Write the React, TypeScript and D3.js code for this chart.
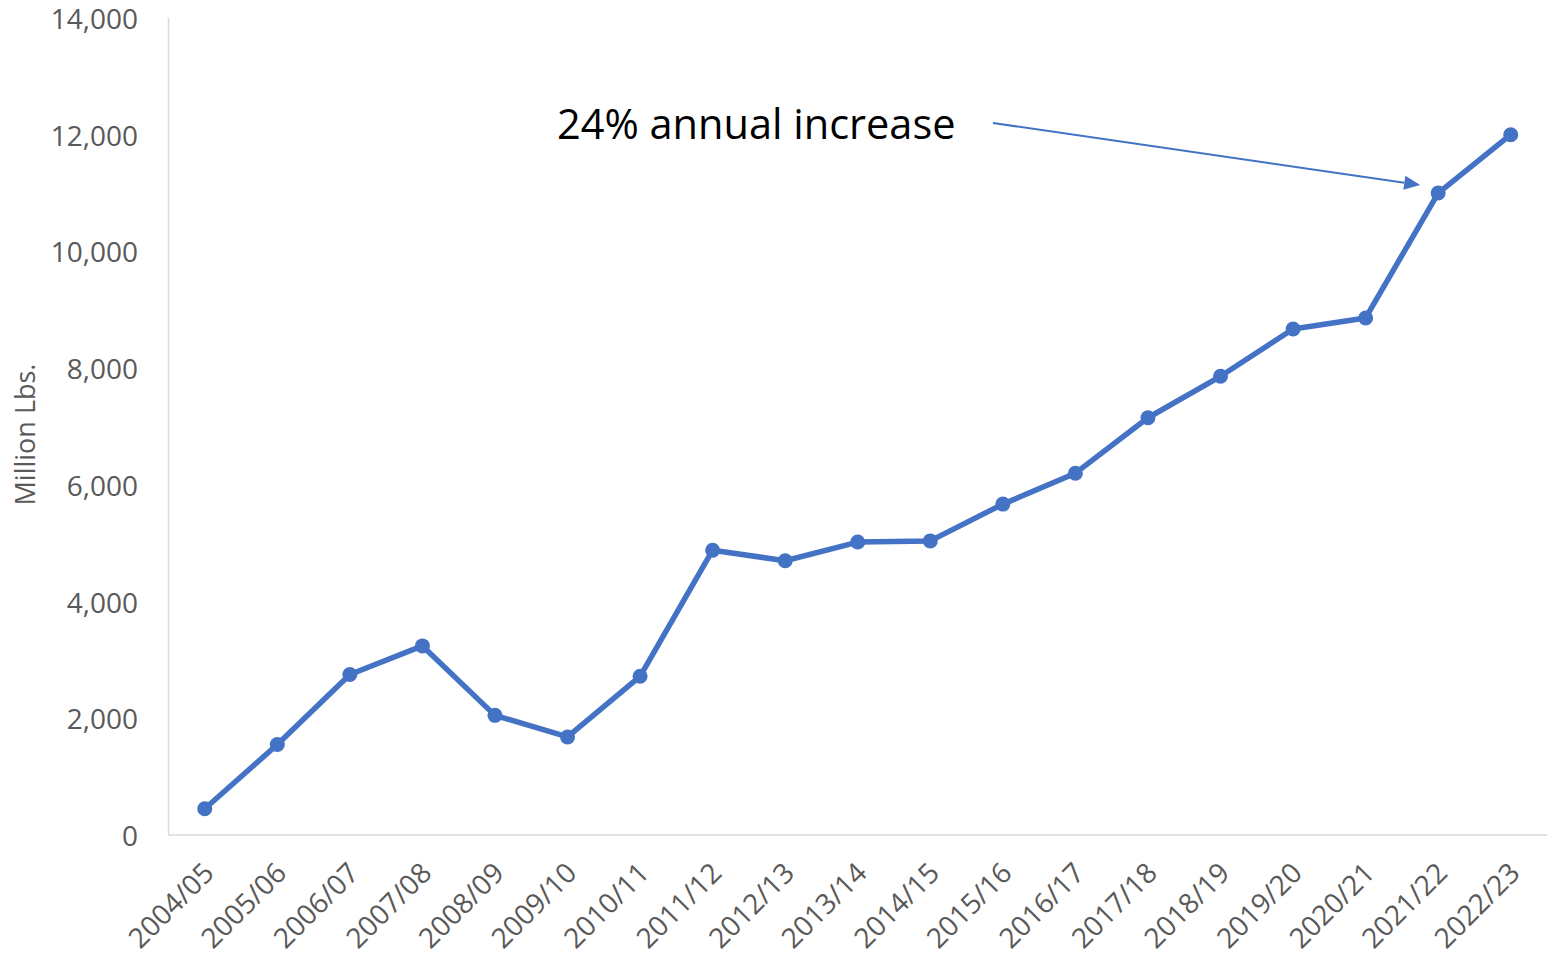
import React from "react";
import * as d3 from "d3";

const categories = [
  "2004/05", "2005/06", "2006/07", "2007/08", "2008/09", "2009/10", "2010/11",
  "2011/12", "2012/13", "2013/14", "2014/15", "2015/16", "2016/17", "2017/18",
  "2018/19", "2019/20", "2020/21", "2021/22", "2022/23",
];
const values = [
  450, 1550, 2750, 3240, 2050, 1680, 2720, 4880, 4700, 5020, 5040, 5670, 6200,
  7150, 7860, 8670, 8860, 11000, 12000,
];
const yTicks = [0, 2000, 4000, 6000, 8000, 10000, 12000, 14000];
const yTitle = "Million Lbs.";
const annotationText = "24% annual increase";
const annotationTarget = "2021/22";

const W = 1547;
const H = 962;
const left = 168.5;
const right = 1547;
const top = 18;
const bottom = 835;
const blue = "#4472C4";
const font = "'Open Sans', sans-serif";

export default function App() {
  const x = d3.scalePoint<string>().domain(categories).range([left, right]).padding(0.5);
  const y = d3.scaleLinear().domain([0, 14000]).range([bottom, top]);
  const fmt = d3.format(",");
  const line = d3
    .line<number>()
    .x((_, i) => x(categories[i]) as number)
    .y((d) => y(d));

  const tIdx = categories.indexOf(annotationTarget);
  const tx = x(annotationTarget) as number;
  const ty = y(values[tIdx]);
  const ax1 = 993, ay1 = 123;
  const ax2 = tx - 18, ay2 = ty - 8;
  const ang = Math.atan2(ay2 - ay1, ax2 - ax1);
  const headLen = 16, headW = 7;
  const bx = ax2 - headLen * Math.cos(ang);
  const by = ay2 - headLen * Math.sin(ang);
  const head = [
    [ax2, ay2],
    [bx + headW * Math.sin(ang), by - headW * Math.cos(ang)],
    [bx - headW * Math.sin(ang), by + headW * Math.cos(ang)],
  ];

  return (
    <svg
      width={W}
      height={H}
      style={{ position: "absolute", left: 0, top: 0, background: "#fff" }}
      fontFamily={font}
    >
      <line x1={left} x2={left} y1={top} y2={bottom} stroke="#d9d9d9" strokeWidth={1.5} />
      <line x1={left} x2={right} y1={bottom} y2={bottom} stroke="#d9d9d9" strokeWidth={1.5} />
      {yTicks.map((t) => (
        <text
          key={t}
          x={138}
          y={y(t)}
          textAnchor="end"
          dominantBaseline="central"
          fontSize={28}
          fill="#595959"
        >
          {fmt(t)}
        </text>
      ))}
      {categories.map((c) => (
        <text
          key={c}
          transform={`translate(${(x(c) as number) + 3},${bottom + 32}) rotate(-45)`}
          textAnchor="end"
          dominantBaseline="central"
          fontSize={28}
          fill="#595959"
        >
          {c}
        </text>
      ))}
      <text
        transform={`translate(24,${(top + bottom) / 2 + 8}) rotate(-90)`}
        textAnchor="middle"
        dominantBaseline="central"
        fontSize={27}
        fill="#595959"
      >
        {yTitle}
      </text>
      <path d={line(values) || ""} fill="none" stroke={blue} strokeWidth={5.5} strokeLinejoin="round" />
      {values.map((v, i) => (
        <circle key={i} cx={x(categories[i]) as number} cy={y(v)} r={7.5} fill={blue} />
      ))}
      <text x={557} y={139} fontSize={41.5} fill="#000">
        {annotationText}
      </text>
      <line x1={ax1} y1={ay1} x2={bx} y2={by} stroke={blue} strokeWidth={2} />
      <polygon points={head.map((p) => p.join(",")).join(" ")} fill={blue} />
    </svg>
  );
}
